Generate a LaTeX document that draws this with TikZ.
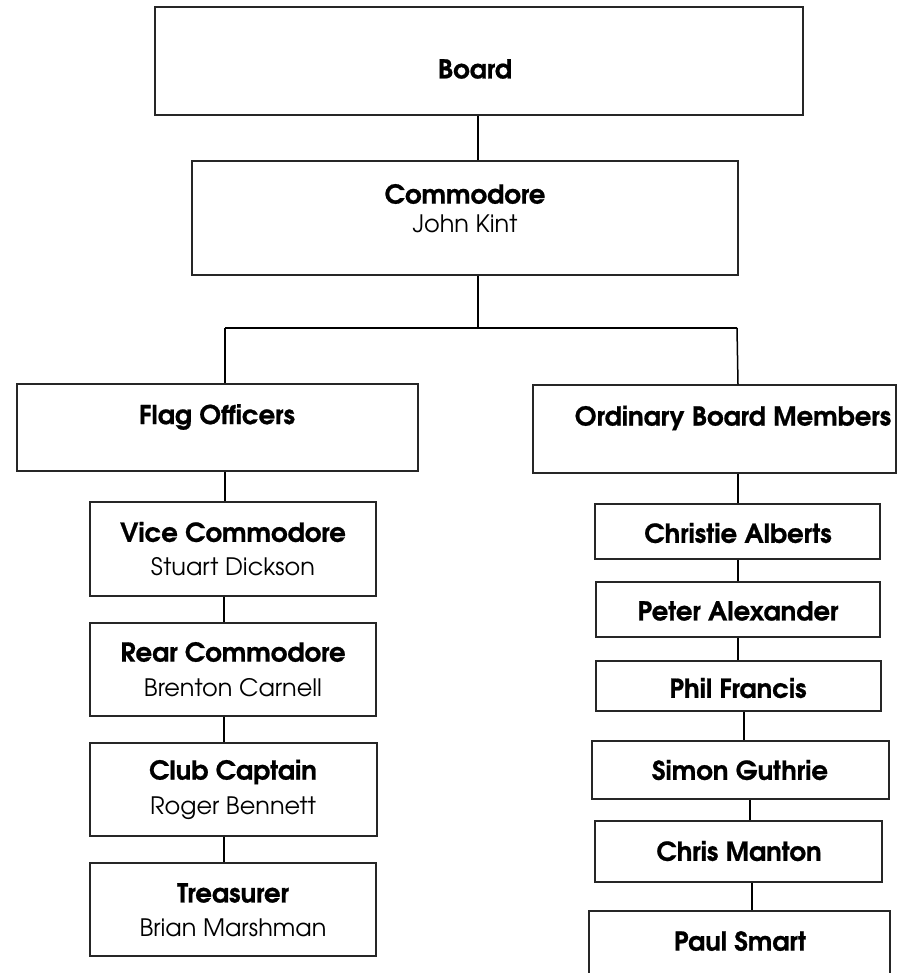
\documentclass[tikz,border=0pt]{standalone}
\usepackage{fontspec}
\setmainfont{texgyreadventor}[Extension=.otf,UprightFont=*-regular,BoldFont=*-bold,BoldFeatures={FakeBold=0.8}]
\usetikzlibrary{fit}
\begin{document}
\begin{tikzpicture}[x=1pt,y=-1pt,
  box/.style={draw=black!85,line width=1.3pt,rectangle,inner sep=0pt},
  heavybox/.style={box,line width=2pt},
  conn/.style={draw=black,line width=1.5pt},
  ttl/.style={font=\fontsize{26}{30}\selectfont\bfseries,inner sep=0pt,anchor=center},
  nm/.style={font=\fontsize{24}{28}\selectfont,inner sep=0pt,anchor=center}]
\useasboundingbox (0,0) rectangle (916,973);
% boxes
\node[box,fit={(155,7) (803,115)}] (board) {};
\node[box,fit={(192,161) (738,275)}] (comm) {};
\node[box,fit={(17,384) (418,471)}] (flag) {};
\node[box,fit={(533,385) (896,473)}] (obm) {};
\node[box,fit={(90,502) (376,596)}] (vice) {};
\node[box,fit={(90,623) (376,716)}] (rear) {};
\node[box,fit={(90,743) (377,836)}] (club) {};
\node[box,fit={(90,863) (376,956)}] (treas) {};
\node[box,fit={(595,504) (880,559)}] (chr) {};
\node[box,fit={(596,582) (880,637)}] (pet) {};
\node[box,fit={(596,661) (881,711)}] (phil) {};
\node[box,fit={(592,741) (889,799)}] (sim) {};
\node[box,fit={(595,821) (882,882)}] (cm) {};
\node[heavybox,fit={(589,911) (890,980)}] (ps) {};
% texts
\node[ttl] (boardT) at (475,69) {Board};
\node[ttl] (commT) at (465,194) {Commodore};
\node[nm] (commN) at (465,224) {John Kint};
\node[ttl] (flagT) at (217,417) {Flag Officers};
\node[ttl] (obmT) at (733,418) {Ordinary Board Members};
\node[ttl] (viceT) at (233,532) {Vice Commodore};
\node[nm] (viceN) at (233,567) {Stuart Dickson};
\node[ttl] (rearT) at (233,652) {Rear Commodore};
\node[nm] (rearN) at (233,688) {Brenton Carnell};
\node[ttl] (clubT) at (233,772) {Club Captain};
\node[nm] (clubN) at (233,808) {Roger Bennett};
\node[ttl] (treasT) at (233,893) {Treasurer};
\node[nm] (treasN) at (233,928) {Brian Marshman};
\node[ttl] (chrT) at (738,533) {Christie Alberts};
\node[ttl] (petT) at (738,611) {Peter Alexander};
\node[ttl] (philT) at (738,688) {Phil Francis};
\node[ttl] (simT) at (740,770) {Simon Guthrie};
\node[ttl] (cmT) at (739,851) {Chris Manton};
\node[ttl] (psT) at (740,941) {Paul Smart};
% connectors
\coordinate (hubC) at (478,328);
\coordinate (hubL) at (225,328);
\coordinate (hubR) at (737,328);
\draw[conn] (board.south -| hubC) -- (comm.north -| hubC);
\draw[conn] (comm.south -| hubC) -- (hubC);
\draw[conn] (hubL) -- (hubR);
\draw[conn] (hubL) -- (flag.north -| hubL);
\draw[conn] (hubR) -- ([xshift=1pt]obm.north -| hubR);
\draw[conn] (flag.south -| hubL) -- (vice.north -| hubL);
\draw[conn] ([xshift=-1pt]vice.south -| hubL) -- ([xshift=-1pt]rear.north -| hubL);
\draw[conn] ([xshift=-1pt]rear.south -| hubL) -- ([xshift=-1pt]club.north -| hubL);
\draw[conn] ([xshift=-1pt]club.south -| hubL) -- ([xshift=-1pt]treas.north -| hubL);
\draw[conn] ([xshift=1pt]obm.south -| hubR) -- ([xshift=1pt]chr.north -| hubR);
\draw[conn] ([xshift=1pt]chr.south -| hubR) -- ([xshift=1pt]pet.north -| hubR);
\draw[conn] ([xshift=1pt]pet.south -| hubR) -- ([xshift=1pt]phil.north -| hubR);
\draw[conn] ([xshift=7pt]phil.south -| hubR) -- ([xshift=7pt]sim.north -| hubR);
\draw[conn] ([xshift=13pt]sim.south -| hubR) -- ([xshift=13pt]cm.north -| hubR);
\draw[conn] ([xshift=15pt]cm.south -| hubR) -- ([xshift=15pt]ps.north -| hubR);
\end{tikzpicture}
\end{document}
